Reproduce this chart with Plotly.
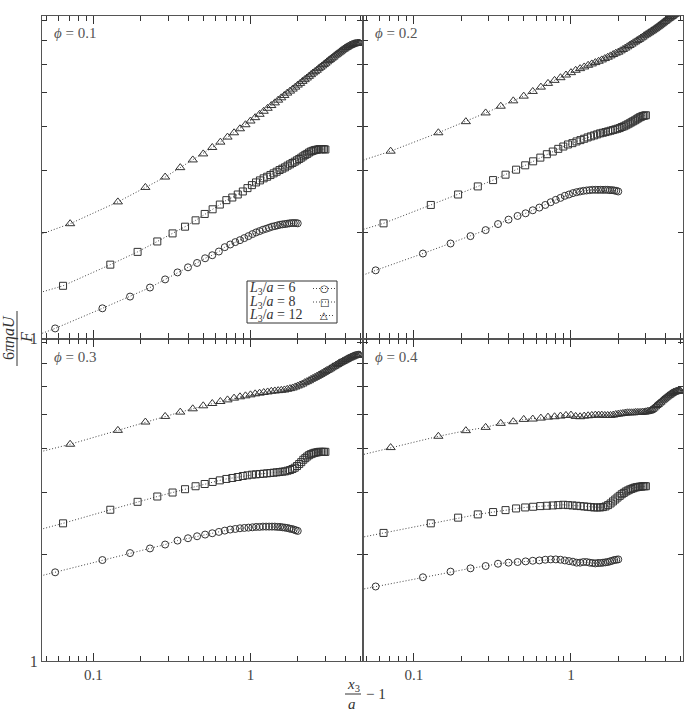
import plotly.graph_objects as go
from plotly.subplots import make_subplots
import math

# ---------------- data ----------------
x_L6 = [0.03, 0.057, 0.114, 0.171, 0.229, 0.286, 0.343, 0.4, 0.457, 0.514, 0.571, 0.629, 0.686,
        0.743, 0.8, 0.857, 0.914, 0.971, 1.029, 1.086, 1.143, 1.2, 1.257, 1.314, 1.371, 1.429,
        1.486, 1.543, 1.6, 1.657, 1.714, 1.771, 1.829, 1.886, 1.943, 2.0]
x_L8 = [0.03, 0.064, 0.128, 0.191, 0.255, 0.319, 0.383, 0.447, 0.511, 0.574, 0.638, 0.702, 0.766,
        0.830, 0.894, 0.957, 1.021, 1.085, 1.149, 1.213, 1.277, 1.340, 1.404, 1.468, 1.532, 1.596,
        1.660, 1.723, 1.787, 1.851, 1.915, 1.979, 2.043, 2.106, 2.170, 2.234, 2.298, 2.362, 2.426,
        2.489, 2.553, 2.617, 2.681, 2.745, 2.809, 2.872, 2.936, 3.0]
x_L12 = [0.03, 0.071, 0.143, 0.214, 0.286, 0.357, 0.429, 0.5, 0.571, 0.643, 0.714, 0.786, 0.857,
         0.929, 1.0, 1.071, 1.143, 1.214, 1.286, 1.357, 1.429, 1.5, 1.571, 1.643, 1.714, 1.786,
         1.857, 1.929, 2.0, 2.071, 2.143, 2.214, 2.286, 2.357, 2.429, 2.5, 2.571, 2.643, 2.714,
         2.786, 2.857, 2.929, 3.0, 3.071, 3.143, 3.214, 3.286, 3.357, 3.429, 3.5, 3.571, 3.643,
         3.714, 3.786, 3.857, 3.929, 4.0, 4.071, 4.143, 4.214, 4.286, 4.357, 4.429, 4.5, 4.571,
         4.643, 4.714, 4.786, 4.857, 4.929, 5.0]

phi1_L6 = [0.959, 1.068, 1.218, 1.315, 1.395, 1.471, 1.540, 1.592, 1.638, 1.689, 1.723, 1.765,
           1.816, 1.848, 1.877, 1.901, 1.927, 1.952, 1.978, 2.000, 2.017, 2.035, 2.048, 2.062,
           2.076, 2.084, 2.094, 2.103, 2.108, 2.112, 2.117, 2.122, 2.126, 2.126, 2.126, 2.122]
phi1_L8 = [1.278, 1.411, 1.620, 1.761, 1.885, 1.987, 2.076, 2.164, 2.256, 2.326, 2.399, 2.469,
           2.512, 2.562, 2.613, 2.671, 2.724, 2.772, 2.809, 2.847, 2.877, 2.909, 2.941, 2.973,
           3.006, 3.033, 3.059, 3.093, 3.120, 3.148, 3.175, 3.203, 3.231, 3.259, 3.288, 3.319,
           3.340, 3.370, 3.393, 3.407, 3.422, 3.430, 3.437, 3.445, 3.445, 3.445, 3.445, 3.437]
phi1_L12 = [1.844, 2.117, 2.441, 2.683, 2.871, 3.053, 3.211, 3.340, 3.483, 3.607, 3.728, 3.834,
            3.936, 4.041, 4.140, 4.232, 4.326, 4.413, 4.500, 4.581, 4.662, 4.745, 4.818, 4.893,
            4.969, 5.034, 5.101, 5.167, 5.236, 5.294, 5.364, 5.424, 5.483, 5.544, 5.605, 5.666,
            5.715, 5.768, 5.830, 5.882, 5.933, 5.985, 6.039, 6.092, 6.145, 6.185, 6.240, 6.281,
            6.337, 6.379, 6.420, 6.463, 6.505, 6.549, 6.592, 6.622, 6.665, 6.694, 6.723, 6.753,
            6.783, 6.798, 6.827, 6.842, 6.857, 6.872, 6.872, 6.887, 6.887, 6.887, 6.872]

phi2_L6 = [1.401, 1.561, 1.742, 1.860, 1.952, 2.030, 2.112, 2.174, 2.227, 2.266, 2.311, 2.352,
           2.393, 2.436, 2.474, 2.506, 2.540, 2.562, 2.585, 2.601, 2.613, 2.624, 2.630, 2.636,
           2.641, 2.641, 2.641, 2.641, 2.641, 2.641, 2.641, 2.636, 2.636, 2.630, 2.624, 2.613]
phi2_L8 = [1.918, 2.122, 2.393, 2.562, 2.701, 2.815, 2.916, 3.013, 3.100, 3.182, 3.260, 3.333,
           3.392, 3.452, 3.505, 3.552, 3.583, 3.623, 3.655, 3.687, 3.719, 3.745, 3.769, 3.794,
           3.819, 3.835, 3.852, 3.869, 3.886, 3.903, 3.920, 3.937, 3.954, 3.981, 3.999, 4.025,
           4.052, 4.078, 4.106, 4.133, 4.159, 4.187, 4.215, 4.243, 4.261, 4.280, 4.289, 4.299]
phi2_L12 = [3.0, 3.400, 3.835, 4.123, 4.365, 4.561, 4.724, 4.871, 5.023, 5.167, 5.294, 5.400,
            5.495, 5.592, 5.679, 5.768, 5.830, 5.895, 5.959, 6.012, 6.065, 6.118, 6.172, 6.226,
            6.281, 6.337, 6.393, 6.449, 6.491, 6.549, 6.607, 6.665, 6.724, 6.783, 6.842, 6.902,
            6.948, 7.009, 7.056, 7.118, 7.165, 7.228, 7.276, 7.324, 7.372, 7.421, 7.469, 7.518,
            7.568, 7.618, 7.668, 7.718, 7.769, 7.820, 7.872, 7.925, 7.960, 8.013, 8.066, 8.101,
            8.155, 8.191, 8.227, 8.281, 8.318, 8.354, 8.391, 8.427, 8.464, 8.501, 8.538]

phi3_L6 = [1.662, 1.785, 1.934, 2.024, 2.086, 2.140, 2.196, 2.230, 2.259, 2.284, 2.304, 2.324,
           2.344, 2.360, 2.369, 2.380, 2.385, 2.390, 2.395, 2.401, 2.401, 2.406, 2.406, 2.406,
           2.406, 2.406, 2.401, 2.401, 2.395, 2.390, 2.385, 2.375, 2.369, 2.360, 2.349, 2.339]
phi3_L8 = [2.245, 2.458, 2.686, 2.829, 2.929, 3.006, 3.072, 3.132, 3.178, 3.221, 3.255, 3.285,
           3.306, 3.327, 3.349, 3.364, 3.378, 3.385, 3.393, 3.400, 3.408, 3.415, 3.422, 3.430,
           3.437, 3.445, 3.452, 3.467, 3.482, 3.505, 3.535, 3.574, 3.621, 3.666, 3.723, 3.763,
           3.803, 3.837, 3.862, 3.879, 3.896, 3.904, 3.912, 3.921, 3.921, 3.921, 3.921, 3.921]
phi3_L12 = [3.740, 4.121, 4.512, 4.764, 4.942, 5.083, 5.194, 5.297, 5.377, 5.448, 5.506, 5.569,
            5.618, 5.654, 5.691, 5.728, 5.753, 5.778, 5.799, 5.825, 5.837, 5.849, 5.862, 5.875,
            5.900, 5.926, 5.952, 5.991, 6.030, 6.069, 6.109, 6.162, 6.202, 6.242, 6.296, 6.337,
            6.378, 6.420, 6.462, 6.503, 6.546, 6.589, 6.631, 6.674, 6.703, 6.747, 6.790, 6.834,
            6.864, 6.909, 6.939, 6.984, 7.015, 7.045, 7.076, 7.105, 7.136, 7.168, 7.199, 7.231,
            7.246, 7.278, 7.293, 7.325, 7.340, 7.357, 7.372, 7.372, 7.387, 7.387, 7.372]

phi4_L6 = [1.538, 1.627, 1.728, 1.793, 1.832, 1.860, 1.888, 1.901, 1.909, 1.917, 1.925, 1.929,
           1.938, 1.942, 1.942, 1.938, 1.929, 1.921, 1.913, 1.901, 1.901, 1.909, 1.909, 1.901,
           1.897, 1.892, 1.897, 1.897, 1.901, 1.905, 1.909, 1.917, 1.925, 1.934, 1.938, 1.942]
phi4_L8 = [2.159, 2.309, 2.458, 2.551, 2.606, 2.646, 2.680, 2.709, 2.727, 2.739, 2.751, 2.757,
           2.763, 2.769, 2.775, 2.769, 2.763, 2.757, 2.751, 2.745, 2.739, 2.733, 2.727, 2.727,
           2.727, 2.733, 2.745, 2.769, 2.799, 2.836, 2.872, 2.909, 2.941, 2.973, 2.999, 3.025,
           3.045, 3.064, 3.078, 3.091, 3.105, 3.112, 3.118, 3.125, 3.125, 3.132, 3.132, 3.132]
phi4_L12 = [3.666, 4.032, 4.341, 4.503, 4.601, 4.723, 4.775, 4.847, 4.858, 4.889, 4.920, 4.932,
            4.953, 4.975, 4.986, 4.943, 4.932, 4.953, 4.964, 4.975, 4.986, 4.986, 4.986, 4.975,
            4.975, 4.975, 4.986, 5.006, 5.017, 5.028, 5.039, 5.050, 5.061, 5.061, 5.061, 5.061,
            5.072, 5.072, 5.072, 5.072, 5.083, 5.083, 5.094, 5.105, 5.116, 5.138, 5.172, 5.217,
            5.262, 5.307, 5.342, 5.389, 5.424, 5.471, 5.506, 5.543, 5.579, 5.614, 5.651, 5.675,
            5.712, 5.737, 5.762, 5.786, 5.799, 5.812, 5.824, 5.837, 5.837, 5.837, 5.824]

phi_labels = ["0.1", "0.2", "0.3", "0.4"]
series_names = ["<i>L</i><sub>3</sub>/<i>a</i> = 6", "<i>L</i><sub>3</sub>/<i>a</i> = 8",
                "<i>L</i><sub>3</sub>/<i>a</i> = 12"]
legend_glyphs = ["○", "□", "△"]
x_tick_vals = [0.1, 1]
x_tick_text = ["0.1", "1"]
x_minor_vals = [0.05, 0.06, 0.07, 0.08, 0.09, 0.2, 0.3, 0.4, 0.5, 0.6, 0.7, 0.8, 0.9, 2, 3, 4, 5]
y_tick_vals = [1]
y_tick_text = ["1"]
y_minor_vals = [2, 3, 4, 5, 6, 7, 8]

panels = [
    (1, 1, phi1_L6, phi1_L8, phi1_L12),
    (1, 2, phi2_L6, phi2_L8, phi2_L12),
    (2, 1, phi3_L6, phi3_L8, phi3_L12),
    (2, 2, phi4_L6, phi4_L8, phi4_L12),
]

# ---------------- figure ----------------
FONT = "Liberation Serif"
INK = "#333333"
FRAME = "#555555"
TICK = "#333333"
DOTS = "1px,2px"

fig = make_subplots(rows=2, cols=2, horizontal_spacing=0, vertical_spacing=0)

symbols = ["circle-open", "square-open", "triangle-up-open"]
sizes = [7, 7, 8]
xs = [x_L6, x_L8, x_L12]

for idx, (r, c, y6, y8, y12) in enumerate(panels):
    for j, ys in enumerate([y6, y8, y12]):
        fig.add_trace(go.Scatter(
            x=xs[j], y=ys, mode="lines+markers", name=series_names[j],
            showlegend=False,
            line=dict(color="#444444", width=1, dash=DOTS),
            marker=dict(symbol=symbols[j], size=sizes[j], color=INK,
                        line=dict(width=1, color=INK)),
        ), row=r, col=c)

xr = [math.log10(0.047), math.log10(5.17)]
yr = [0, 0.915]

for r in (1, 2):
    for c in (1, 2):
        fig.update_xaxes(
            type="log", range=xr, tickmode="array", tickvals=x_tick_vals, ticktext=x_tick_text,
            showticklabels=(r == 2), ticks="inside", ticklen=8, tickwidth=1.2, tickcolor=TICK,
            showline=True, linecolor=FRAME, linewidth=1.3, mirror="ticks",
            showgrid=False, zeroline=False,
            tickfont=dict(family=FONT, size=15, color="#444"),
            minor=dict(tickmode="array", tickvals=x_minor_vals, ticks="inside", ticklen=5,
                       tickcolor=TICK, tickwidth=1.1),
            row=r, col=c)
        fig.update_yaxes(
            type="log", range=yr, tickmode="array", tickvals=y_tick_vals, ticktext=y_tick_text,
            showticklabels=(c == 1), ticks="inside", ticklen=8, tickwidth=1.2, tickcolor=TICK,
            showline=True, linecolor=FRAME, linewidth=1.3, mirror="ticks",
            showgrid=False, zeroline=False,
            tickfont=dict(family=FONT, size=16, color="#444"),
            minor=dict(tickmode="array", tickvals=y_minor_vals, ticks="inside", ticklen=5,
                       tickcolor=TICK, tickwidth=1.1),
            row=r, col=c)

W, H = 691, 712
L, R, T, B = 42, 8, 16, 51
PW, PH = W - L - R, H - T - B


def px(xp):
    return (xp - L) / PW


def py(yp):
    return 1 - (yp - T) / PH


ann = []
shapes = []

phi_pos = [(52, 33), (373, 33), (52, 357), (373, 357)]
for lab, (ax_, ay_) in zip(phi_labels, phi_pos):
    ann.append(dict(x=px(ax_), y=py(ay_), xref="paper", yref="paper", xanchor="left",
                    yanchor="middle", showarrow=False,
                    text="<i>ϕ</i> = " + lab,
                    font=dict(family=FONT, size=15, color="#555")))

# y axis title as a rotated fraction
ann.append(dict(x=px(9), y=py(338), xref="paper", yref="paper", xanchor="center",
                yanchor="middle", showarrow=False, textangle=-90,
                text="6<i>πηaU</i>", font=dict(family=FONT, size=16, color="#333")))
ann.append(dict(x=px(26), y=py(338), xref="paper", yref="paper", xanchor="center",
                yanchor="middle", showarrow=False, textangle=-90,
                text="<i>F</i>", font=dict(family=FONT, size=16, color="#333")))
shapes.append(dict(type="line", xref="paper", yref="paper", x0=px(17), x1=px(17),
                   y0=py(311), y1=py(366), line=dict(color="#333", width=1)))
# x axis title as a fraction
ann.append(dict(x=px(353), y=py(685), xref="paper", yref="paper", xanchor="center",
                yanchor="middle", showarrow=False,
                text="<i>x</i><sub>3</sub>", font=dict(family=FONT, size=15, color="#333")))
ann.append(dict(x=px(352), y=py(704), xref="paper", yref="paper", xanchor="center",
                yanchor="middle", showarrow=False,
                text="<i>a</i>", font=dict(family=FONT, size=15, color="#333")))
ann.append(dict(x=px(364), y=py(694), xref="paper", yref="paper", xanchor="left",
                yanchor="middle", showarrow=False,
                text="− 1", font=dict(family=FONT, size=15, color="#333")))
shapes.append(dict(type="line", xref="paper", yref="paper", x0=px(345), x1=px(361),
                   y0=py(694), y1=py(694), line=dict(color="#333", width=1)))

# legend (text on the left, key on the right, as in the reference)
shapes.append(dict(type="rect", xref="paper", yref="paper", x0=px(247), x1=px(337),
                   y0=py(281), y1=py(323), line=dict(color="#333", width=1),
                   fillcolor="white", layer="above"))
row_y = [288.5, 302.0, 315.5]
for name, glyph, ry in zip(series_names, legend_glyphs, row_y):
    ann.append(dict(x=px(248), y=py(ry), xref="paper", yref="paper", xanchor="left",
                    yanchor="middle", showarrow=False, text=name, borderpad=0,
                    font=dict(family=FONT, size=14, color="#333")))
    shapes.append(dict(type="line", xref="paper", yref="paper",
                       x0=px(313 if glyph != "△" else 320), x1=px(335), y0=py(ry), y1=py(ry),
                       line=dict(color="#444", width=1, dash=DOTS), layer="above"))
    ann.append(dict(x=px(324), y=py(ry), xref="paper", yref="paper", xanchor="center",
                    yanchor="middle", showarrow=False, text=glyph, borderpad=0,
                    font=dict(family="DejaVu Sans", size=10, color="#222")))

fig.update_layout(
    width=W, height=H,
    margin=dict(l=L, r=R, t=T, b=B),
    paper_bgcolor="white", plot_bgcolor="white",
    font=dict(family=FONT, color="#333"),
    annotations=ann, shapes=shapes,
    showlegend=False,
)

fig.write_html("out.html")
